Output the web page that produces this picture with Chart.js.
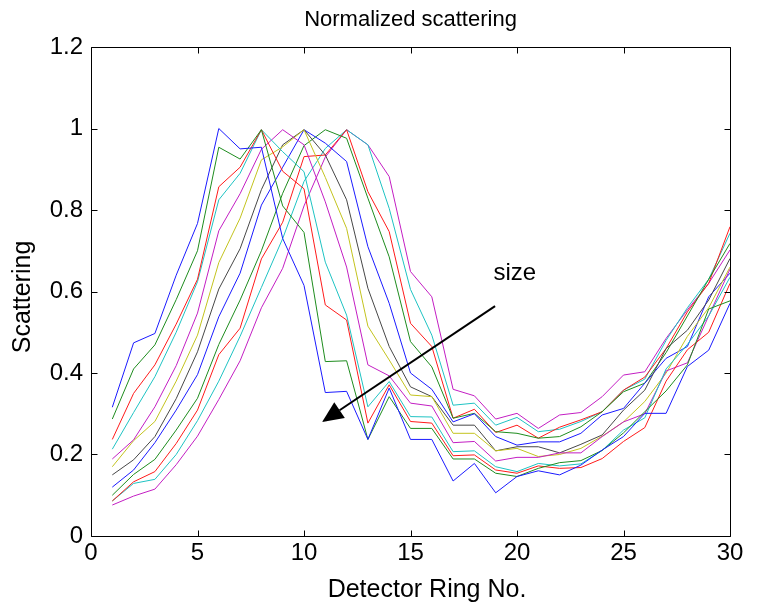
<!DOCTYPE html>
<html>
<head>
<meta charset="utf-8">
<script src="https://cdn.jsdelivr.net/npm/chart.js@4.4.1/dist/chart.umd.min.js"></script>
<style>
  html, body { margin: 0; padding: 0; background: #fff; }
  #wrap { width: 761px; height: 607px; }
</style>
</head>
<body>
<div id="wrap"><canvas id="c" width="761" height="607"></canvas></div>
<script>
// ---- data ----
const ringNo = [1,2,3,4,5,6,7,8,9,10,11,12,13,14,15,16,17,18,19,20,21,22,23,24,25,26,27,28,29,30];

const s1  = [0.316,0.474,0.497,0.640,0.767,1.000,0.950,0.954,0.730,0.615,0.352,0.355,0.237,0.363,0.237,0.237,0.135,0.178,0.106,0.146,0.160,0.150,0.174,0.211,0.244,0.301,0.301,0.416,0.456,0.571];
const s2  = [0.287,0.410,0.469,0.580,0.700,0.954,0.925,0.997,0.810,0.745,0.428,0.430,0.237,0.342,0.264,0.264,0.189,0.189,0.154,0.146,0.166,0.180,0.185,0.210,0.253,0.305,0.356,0.420,0.557,0.577];
const s3  = [0.237,0.350,0.420,0.520,0.630,0.857,0.905,0.997,0.895,0.852,0.567,0.530,0.277,0.371,0.281,0.277,0.197,0.199,0.162,0.154,0.172,0.166,0.168,0.190,0.232,0.266,0.380,0.457,0.500,0.620];
const s4  = [0.213,0.303,0.391,0.500,0.624,0.825,0.890,0.997,0.943,0.894,0.672,0.542,0.317,0.379,0.293,0.292,0.207,0.209,0.170,0.158,0.178,0.172,0.177,0.210,0.260,0.290,0.410,0.470,0.540,0.635];
const s5  = [0.189,0.236,0.317,0.418,0.547,0.749,0.840,0.949,0.997,0.960,0.820,0.660,0.420,0.393,0.326,0.319,0.229,0.232,0.184,0.193,0.193,0.204,0.204,0.244,0.280,0.300,0.405,0.425,0.540,0.655];
const s6  = [0.170,0.234,0.281,0.380,0.493,0.671,0.780,0.923,0.955,0.997,0.880,0.755,0.515,0.432,0.346,0.342,0.252,0.252,0.209,0.215,0.195,0.200,0.215,0.245,0.280,0.330,0.400,0.490,0.560,0.660];
const s7  = [0.150,0.187,0.244,0.337,0.452,0.606,0.705,0.850,0.960,0.997,0.935,0.825,0.608,0.465,0.366,0.342,0.272,0.272,0.209,0.219,0.219,0.204,0.225,0.248,0.309,0.358,0.460,0.505,0.579,0.681];
const s8  = [0.120,0.162,0.229,0.309,0.396,0.538,0.645,0.812,0.905,0.997,0.964,0.919,0.710,0.571,0.400,0.360,0.280,0.300,0.244,0.223,0.231,0.231,0.252,0.297,0.313,0.375,0.436,0.465,0.587,0.645];
const s9  = [0.100,0.151,0.188,0.260,0.338,0.470,0.579,0.700,0.841,0.958,0.997,0.976,0.829,0.685,0.477,0.415,0.289,0.301,0.256,0.252,0.240,0.244,0.268,0.305,0.354,0.375,0.450,0.540,0.630,0.718];
const s10 = [0.086,0.133,0.158,0.227,0.309,0.445,0.510,0.680,0.770,0.931,0.935,0.997,0.845,0.747,0.522,0.465,0.289,0.311,0.254,0.272,0.240,0.267,0.285,0.305,0.358,0.390,0.460,0.550,0.620,0.759];
const s11 = [0.086,0.129,0.139,0.200,0.283,0.380,0.490,0.610,0.730,0.870,0.951,0.997,0.960,0.804,0.605,0.493,0.321,0.326,0.272,0.291,0.256,0.262,0.281,0.305,0.358,0.385,0.480,0.560,0.630,0.743];
const s12 = [0.076,0.098,0.115,0.175,0.245,0.335,0.430,0.560,0.657,0.810,0.930,0.997,0.960,0.882,0.649,0.587,0.360,0.344,0.287,0.301,0.264,0.297,0.303,0.342,0.395,0.403,0.485,0.555,0.620,0.702];

const seriesList = [s1,s2,s3,s4,s5,s6,s7,s8,s9,s10,s11,s12];
const seriesColors = ['#1a1aff','#1e8c1e','#ff1a1a','#1ec3c3','#c31ec3','#c3c31e','#474747','#1a1aff','#1e8c1e','#ff1a1a','#1ec3c3','#c31ec3'];

const xTicks = [0,5,10,15,20,25,30];
const xTickLabels = ['0','5','10','15','20','25','30'];
const yTicks = [0,0.2,0.4,0.6,0.8,1.0,1.2];
const yTickLabels = ['0','0.2','0.4','0.6','0.8','1','1.2'];

const chartTitle = 'Normalized scattering';
const xTitle = 'Detector Ring No.';
const yTitle = 'Scattering';
const noteText = 'size';
const arrowFrom = {x: 18.97, y: 0.564};
const arrowTo = {x: 10.85, y: 0.28};
const notePos = {x: 19.9, y: 0.645};

// ---- chart ----
const FONT = "'Liberation Sans', Arial, Helvetica, sans-serif";

const datasets = seriesList.map((s, i) => ({
  data: s.map((v, k) => ({x: ringNo[k], y: v})),
  borderColor: seriesColors[i],
  backgroundColor: seriesColors[i],
  borderWidth: 1,
  pointRadius: 0,
  tension: 0,
  fill: false
}));

const boxPlugin = {
  id: 'matlabBox',
  afterDraw(chart) {
    const {ctx, chartArea: a, scales: {x, y}} = chart;
    ctx.save();
    ctx.strokeStyle = '#000';
    ctx.lineWidth = 1;
    const L = Math.round(a.left) + 0.5, R = Math.round(a.right) + 0.5;
    const T = Math.round(a.top) + 0.5, B = Math.round(a.bottom) + 0.5;
    ctx.beginPath();
    ctx.rect(L, T, R - L, B - T);
    const tl = 6;
    xTicks.forEach(v => {
      const px = Math.round(x.getPixelForValue(v)) + 0.5;
      ctx.moveTo(px, B); ctx.lineTo(px, B - tl);
      ctx.moveTo(px, T); ctx.lineTo(px, T + tl);
    });
    yTicks.forEach(v => {
      const py = Math.round(y.getPixelForValue(v)) + 0.5;
      ctx.moveTo(L, py); ctx.lineTo(L + tl, py);
      ctx.moveTo(R, py); ctx.lineTo(R - tl, py);
    });
    ctx.stroke();

    // arrow annotation
    const x0 = x.getPixelForValue(arrowFrom.x), y0 = y.getPixelForValue(arrowFrom.y);
    const x1 = x.getPixelForValue(arrowTo.x), y1 = y.getPixelForValue(arrowTo.y);
    const ang = Math.atan2(y1 - y0, x1 - x0);
    const hl = 21, hw = 9.5;
    const bx = x1 - hl * Math.cos(ang), by = y1 - hl * Math.sin(ang);
    ctx.lineWidth = 2;
    ctx.beginPath();
    ctx.moveTo(x0, y0); ctx.lineTo(bx, by);
    ctx.stroke();
    ctx.fillStyle = '#000';
    ctx.beginPath();
    ctx.moveTo(x1, y1);
    ctx.lineTo(bx + hw * Math.sin(ang), by - hw * Math.cos(ang));
    ctx.lineTo(bx - hw * Math.sin(ang), by + hw * Math.cos(ang));
    ctx.closePath();
    ctx.fill();

    ctx.font = '24px ' + FONT;
    ctx.textAlign = 'center';
    ctx.textBaseline = 'middle';
    ctx.fillText(noteText, x.getPixelForValue(notePos.x), y.getPixelForValue(notePos.y));

    // axis titles
    ctx.font = '25px ' + FONT;
    ctx.fillText(xTitle, 427, 590);
    ctx.save();
    ctx.translate(23, 297);
    ctx.rotate(-Math.PI / 2);
    ctx.fillText(yTitle, 0, 0);
    ctx.restore();
    ctx.restore();
  }
};

new Chart(document.getElementById('c'), {
  type: 'line',
  data: { datasets },
  options: {
    responsive: false,
    animation: false,
    devicePixelRatio: 1,
    layout: { padding: { left: 0, right: 31, top: 0, bottom: 0 } },
    plugins: {
      legend: { display: false },
      tooltip: { enabled: false },
      title: {
        display: true,
        fullSize: false,
        text: chartTitle,
        color: '#000',
        font: { family: FONT, size: 22, weight: 'normal' },
        padding: { top: 7, bottom: 13.6 }
      }
    },
    scales: {
      x: {
        type: 'linear',
        min: 0, max: 30,
        afterFit(s) { s.height = 71; },
        afterBuildTicks(s) { s.ticks = xTicks.map(v => ({value: v})); },
        grid: { display: false, drawTicks: false },
        border: { display: false },
        ticks: {
          color: '#000',
          padding: 3,
          maxRotation: 0,
          font: { family: FONT, size: 24 },
          callback: (v, i) => xTickLabels[i]
        },
        title: { display: false }
      },
      y: {
        type: 'linear',
        min: 0, max: 1.2,
        afterFit(s) { s.width = 91; },
        afterBuildTicks(s) { s.ticks = yTicks.map(v => ({value: v})); },
        grid: { display: false, drawTicks: false },
        border: { display: false },
        ticks: {
          color: '#000',
          padding: 8,
          font: { family: FONT, size: 24 },
          callback: (v, i) => yTickLabels[i]
        },
        title: { display: false }
      }
    }
  },
  plugins: [boxPlugin]
});
</script>
</body>
</html>
